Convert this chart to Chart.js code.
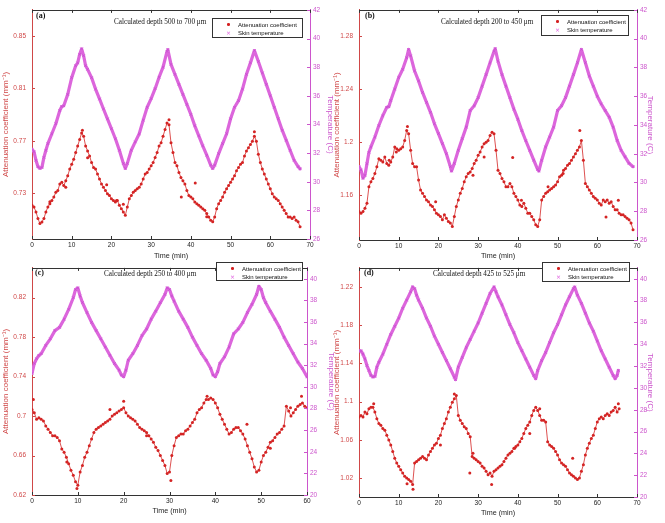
<!DOCTYPE html>
<html>
<head>
<meta charset="utf-8">
<script src="https://cdn.jsdelivr.net/npm/chart.js@4.4.1/dist/chart.umd.min.js"></script>
<style>
  html, body { margin: 0; padding: 0; background: #fff; }
  #wrap { position: relative; width: 665px; height: 523px; overflow: hidden; background: #fff; }
  canvas { position: absolute; }
  .lbl { position: absolute; font-family: 'Liberation Serif', 'Times New Roman', serif; color: #111; white-space: nowrap; line-height: 1; }
  .panel { font-weight: bold; font-size: 8px; }
  .depth { font-size: 7.2px; }
  .legend { position: absolute; border: 1px solid #333; background: #fff; box-sizing: border-box; }
  .legend .row { position: absolute; left: 0; font-family: 'Liberation Sans', Arial, sans-serif; font-size: 6px; color: #111; white-space: nowrap; line-height: 1; }
  .legend .dot { position: absolute; width: 2.6px; height: 2.6px; border-radius: 50%; background: #d42020; }
  .legend .cross { position: absolute; font-family: 'DejaVu Sans', sans-serif; font-size: 6px; color: #dd55dd; line-height: 1; }
</style>
</head>
<body>
<div id="wrap">
  <canvas id="cA"></canvas>
  <canvas id="cB"></canvas>
  <canvas id="cC"></canvas>
  <canvas id="cD"></canvas>
</div>
<script>
// ---------------- DATA ----------------
const sampleStep = 0.5; // minutes between attenuation samples

// Panel (a) - calculated depth 500 to 700 um
const attnA = [
 0.7207,0.7194,0.7157,0.7106,0.7068,0.708,0.7106,0.7157,0.7194,0.722,
 0.7244,0.727,0.7307,0.732,0.737,0.7383,0.7358,0.7395,0.7433,0.7484,
 0.7521,0.7559,0.761,0.766,0.771,0.776,0.7735,0.766,0.7622,0.7584,
 0.7534,0.7496,0.7484,0.7446,0.7408,0.737,0.7345,0.732,0.7295,0.7282,
 0.7257,0.7244,0.7232,0.7244,0.7207,0.7182,0.7157,0.7131,0.7194,0.7257,
 0.7282,0.7307,0.732,0.7333,0.7345,0.737,0.7408,0.7446,0.7458,0.7484,
 0.7509,0.7534,0.7572,0.761,0.766,0.7685,0.7735,0.7786,0.7836,0.7823,
 0.7685,0.761,0.7534,0.7509,0.7458,0.742,0.7395,0.737,0.732,0.7282,
 0.727,0.7257,0.7232,0.722,0.7207,0.7194,0.7182,0.7169,0.7144,0.7119,
 0.7094,0.7081,0.7119,0.7182,0.722,0.7244,0.727,0.7307,0.7333,0.7358,
 0.7383,0.7408,0.7433,0.7471,0.7496,0.7521,0.7534,0.7584,0.7622,0.7647,
 0.7672,0.7697,0.7735,0.7697,0.7597,0.7534,0.7484,0.7446,0.7408,0.737,
 0.7333,0.7295,0.727,0.7257,0.7244,0.722,0.7194,0.7169,0.7144,0.7119,
 0.7119,0.7106,0.7119,0.7094,0.7081,0.7043];
const extraTimeA = [18.8,41.1,8.5,37.6,23,56,12.7,34.5,14,44,21.3,4.5];
const extraAttnA = [0.7365,0.7378,0.7345,0.727,0.7215,0.777,0.778,0.786,0.757,0.712,0.7245,0.7235];
const tempTimeA = [0,0.5,1,1.5,2,2.5,3,3.5,4,5,6,7,7.5,8,9,10,11,11.5,12,12.5,13,13.5,14,15,16,17,18,19,20,21,22,23,23.5,24,25,26,27,28,29,30,31,32,33,34,34.2,35,36,37,38,39,40,41,42,43,44,45,45.5,46,47,48,49,50,51,52,53,54,55,56,57,58,59,60,61,62,63,64,65,66,67,67.5];
const tempA = [32.27,32.1,31.5,31.05,30.93,31.0,31.7,32.2,32.66,33.35,34.05,34.97,35.25,35.3,36.1,37.27,38.1,38.3,38.9,39.28,38.8,38.1,37.85,37.27,36.47,35.78,35.08,34.39,33.7,33.0,32.2,31.28,30.93,31.28,32.2,32.78,33.35,34.3,35.2,35.8,36.5,37.3,38.0,39.1,39.23,38.2,37.5,36.8,36.1,35.4,34.7,33.9,33.2,32.5,31.85,31.16,30.93,31.16,31.96,32.66,33.35,34.4,35.2,35.66,36.47,37.5,38.3,39.16,38.4,37.6,36.8,36.0,35.2,34.4,33.6,32.9,32.2,31.5,31.05,30.9];
const attnTicksA = [0.73,0.77,0.81,0.85];
const tempTicksA = [26,28,30,32,34,36,38,40,42];

// Panel (b) - calculated depth 200 to 450 um
const attnB = [
 1.1475,1.1463,1.1475,1.15,1.1538,1.1663,1.17,1.1725,1.1763,1.1813,
 1.1875,1.1863,1.185,1.1888,1.1838,1.1825,1.185,1.1888,1.1963,1.195,
 1.1938,1.195,1.1963,1.2013,1.2088,1.2063,1.1938,1.1838,1.1813,1.1813,
 1.1713,1.1638,1.1613,1.1588,1.1563,1.155,1.1525,1.1513,1.1488,1.1463,
 1.145,1.1438,1.1413,1.145,1.1425,1.14,1.1388,1.1363,1.1438,1.1513,
 1.1563,1.1613,1.165,1.17,1.1738,1.1763,1.1775,1.18,1.1838,1.1863,
 1.19,1.1925,1.1963,1.1988,1.2,1.2013,1.205,1.2075,1.2063,1.1938,
 1.1788,1.1763,1.1725,1.17,1.1663,1.1663,1.1688,1.1663,1.1613,1.1588,
 1.1563,1.1525,1.1513,1.1538,1.15,1.1463,1.1463,1.1438,1.1413,1.1375,
 1.1363,1.1413,1.1563,1.1588,1.1613,1.1625,1.1638,1.165,1.1663,1.1675,
 1.17,1.1738,1.175,1.1788,1.18,1.1825,1.1838,1.1863,1.1888,1.1913,
 1.1938,1.1963,1.2013,1.1863,1.1688,1.1663,1.1638,1.1613,1.1588,1.1575,
 1.1563,1.1538,1.1525,1.1563,1.155,1.1563,1.1538,1.155,1.1513,1.1488,
 1.1488,1.1463,1.145,1.145,1.1438,1.1425,1.1413,1.1388,1.1338];
const extraTimeB = [31.5,38.7,51.4,55.6,62.2,7.6,9.4,28.7,19.3,47.6,65.3,40.9,12.2];
const extraAttnB = [1.1888,1.1883,1.1763,1.2088,1.1433,1.1863,1.1925,1.175,1.155,1.1663,1.156,1.156,1.2118];
const tempTimeB = [0,0.5,1,1.5,2,2.5,3,4,5,6,7,7.5,8,9,10,11,12,12.5,13,14,15,16,17,18,19,20,21,22,23,23.3,24,25,26,27,28,29,30,31,32,33,34,34.3,35,36,37,38,39,40,41,42,43,44,45,45.3,46,47,48,49,50,51,52,53,54,55,56,57,58,59,60,61,62,63,64,65,66,67,68,69];
const tempB = [31.1,30.87,30.3,30.5,31.3,32.1,32.47,33.16,33.96,34.65,35.23,35.27,35.7,36.5,37.3,37.87,38.67,39.25,38.8,37.75,37.06,36.26,35.57,34.88,34.08,33.4,32.7,32.0,31.1,30.8,31.33,32.24,33.05,33.85,35.0,35.34,35.9,36.7,37.5,38.33,39.13,39.3,38.44,37.5,36.7,35.9,35.1,34.4,33.6,32.9,32.24,31.55,30.9,30.8,31.55,32.47,33.16,33.85,35.0,35.34,35.9,36.7,37.5,38.33,39.25,38.33,37.4,36.7,36.0,35.46,35.0,34.54,33.85,32.93,32.24,31.78,31.33,31.1];
const attnTicksB = [1.16,1.2,1.24,1.28];
const tempTicksB = [26,28,30,32,34,36,38,40,42];

// Panel (c) - calculated depth 250 to 400 um
const attnC = [
 0.7067,0.7033,0.6967,0.6983,0.6967,0.695,0.69,0.6867,0.6833,0.68,
 0.68,0.6783,0.675,0.6667,0.6633,0.6583,0.6517,0.645,0.64,0.6333,
 0.63,0.6433,0.65,0.6583,0.6633,0.67,0.6767,0.6833,0.6867,0.6883,
 0.69,0.6917,0.6933,0.695,0.6967,0.7,0.7017,0.7033,0.705,0.7067,
 0.7083,0.7033,0.7,0.6983,0.6967,0.695,0.6917,0.6883,0.6867,0.685,
 0.6833,0.68,0.6767,0.6733,0.6683,0.665,0.66,0.655,0.65,0.6417,
 0.6433,0.66,0.67,0.6783,0.68,0.6817,0.6817,0.685,0.6867,0.69,
 0.6933,0.6967,0.7033,0.7067,0.7083,0.7133,0.7167,0.7167,0.7183,0.7167,
 0.7133,0.7083,0.7017,0.6967,0.6917,0.6867,0.6817,0.6833,0.6867,0.6883,
 0.6883,0.685,0.6817,0.6767,0.67,0.6633,0.6567,0.6483,0.6433,0.645,
 0.6533,0.66,0.6633,0.6683,0.6733,0.675,0.6783,0.6817,0.6833,0.6867,
 0.69,0.71,0.705,0.7,0.7033,0.7067,0.71,0.7117,0.7133,0.71,
 0.7083];
const extraTimeC = [7.6,9.8,17,25,30.3,38.2,46.9,56.4,58.8,0.3,52,20];
const extraAttnC = [0.6533,0.6267,0.7067,0.68,0.6347,0.72,0.6917,0.7083,0.72,0.7167,0.6673,0.715];
const tempTimeC = [0,0.5,1,1.5,2,3,4,5,6,7,8,9,9.5,10,10.5,11,12,13,14,15,16,17,18,19,19.5,20,20.5,21,22,23,24,25,26,27,28,29,29.5,30,30.5,31,32,33,34,35,36,37,38,39,39.5,40,40.5,41,42,43,44,45,46,47,48,49,49.5,50,50.5,51,52,53,54,55,56,57,58,59,60];
const tempC = [31.25,32.16,32.6,32.9,33.07,33.83,34.44,35.2,35.5,36.26,37.17,38.24,39.0,39.15,38.4,37.8,36.87,35.96,35.2,34.44,33.68,32.92,32.16,31.55,31.1,30.94,31.55,32.46,33.07,33.83,34.74,35.35,36.26,37.0,37.78,38.54,39.15,39.0,38.4,37.93,37.0,36.26,35.5,34.6,33.83,33.07,32.46,31.7,31.1,30.94,31.4,32.16,32.77,33.68,34.9,35.35,35.96,36.87,37.63,38.54,39.3,39.0,38.24,37.78,37.0,36.26,35.5,34.6,33.83,33.07,32.3,31.7,30.94];
const attnTicksC = [0.62,0.66,0.7,0.74,0.78,0.82];
const tempTicksC = [20,22,24,26,28,30,32,34,36,38,40];

// Panel (d) - calculated depth 425 to 525 um
const attnD = [
 1.0838,1.0855,1.0838,1.089,1.0873,1.0924,1.0941,1.0941,1.089,1.0821,
 1.0769,1.0752,1.0717,1.07,1.0648,1.0597,1.0545,1.0476,1.0407,1.0355,
 1.0321,1.0286,1.0252,1.0217,1.02,1.0183,1.0166,1.0131,1.0355,1.0372,
 1.039,1.0407,1.0424,1.0407,1.039,1.0441,1.0476,1.051,1.0545,1.0562,
 1.0614,1.0648,1.0717,1.0769,1.0821,1.089,1.0941,1.0993,1.1028,1.1062,
 1.0855,1.0803,1.0769,1.0735,1.0717,1.0666,1.0631,1.0424,1.0407,1.039,
 1.0372,1.0355,1.0321,1.0303,1.0269,1.0234,1.0252,1.0217,1.0269,1.0286,
 1.0303,1.0321,1.0338,1.0372,1.0407,1.0441,1.0459,1.0476,1.051,1.0528,
 1.0545,1.0579,1.0614,1.0666,1.0717,1.0752,1.0786,1.0855,1.0907,1.0941,
 1.0907,1.0855,1.0803,1.0803,1.0786,1.058,1.0545,1.0528,1.051,1.0476,
 1.0441,1.039,1.0355,1.0338,1.0321,1.0286,1.0252,1.0234,1.0217,1.02,
 1.0183,1.02,1.0269,1.0338,1.0441,1.051,1.0562,1.0614,1.0648,1.0717,
 1.0786,1.0821,1.0838,1.0821,1.0855,1.0873,1.0855,1.089,1.0907,1.0941,
 1.089,1.0924];
const extraTimeD = [13.6,12.1,27.9,28.7,33.4,53.8,45.5,39.2,65.3,3.7,24,20.5,43];
const extraAttnD = [1.008,1.0138,1.0252,1.0459,1.0131,1.0407,1.0924,1.051,1.0976,1.0976,1.1079,1.0545,1.0665];
const tempTimeD = [0,0.5,1,1.5,2,2.5,3,3.5,4,4.5,5,6,7,8,9,10,11,12,13,13.5,14,14.5,15,16,17,18,19,20,21,22,23,24,24.3,25,26,27,28,29,30,31,32,33,34,34.5,35,36,37,38,39,40,41,42,43,44,44.5,45,46,47,48,49,50,51,52,53,54,54.3,55,56,57,58,59,60,61,62,63,64,64.5,65,65.3];
const tempD = [33.4,33.4,33.1,32.65,32.05,31.6,31.15,31.0,31.06,31.9,32.35,33.1,34.0,34.9,35.65,36.4,37.3,38.05,38.8,39.25,39.1,38.5,38.05,37.3,36.4,35.65,34.75,34.0,33.25,32.5,31.75,31.0,30.76,31.9,32.8,33.7,34.45,35.2,35.95,36.85,37.75,38.65,39.25,38.8,38.35,37.6,36.7,35.8,35.05,34.15,33.4,32.65,31.9,31.15,30.85,31.6,32.5,33.25,34.15,35.05,35.8,36.7,37.6,38.35,39.1,39.25,38.5,37.75,36.85,35.95,35.2,34.3,33.4,32.65,31.9,31.15,30.85,31.15,31.6];
const attnTicksD = [1.02,1.06,1.1,1.14,1.18,1.22];
const tempTicksD = [20,22,24,26,28,30,32,34,36,38,40];

const panelLabels = ['(a)','(b)','(c)','(d)'];
const depthLabels = ['Calculated depth 500 to 700 \u03bcm','Calculated depth 200 to 450 \u03bcm','Calculated depth 250 to 400 \u03bcm','Calculated depth 425 to 525 \u03bcm'];
const seriesNames = ['Attenuation coefficient','Skin temperature'];

// ---------------- STYLE / LAYOUT ----------------
const RED = '#d42424';
const RED_AX = '#d04848';
const MAG = '#dc66dc';
const MAG_AX = '#cc55cc';
const SANS = "'Liberation Sans', Arial, sans-serif";

const panels = [
  { cid:'cA', attn:attnA, exT:extraTimeA, exV:extraAttnA, tT:tempTimeA, tV:tempA, ticks:attnTicksA, ticks2:tempTicksA,
    box:{left:0, top:0, w:335, h:260}, area:{left:32, right:310, top:8, bottom:239},
    xMax:70, yMin:0.695, yMax:0.87, y2Min:26, y2Max:42,
    label:{x:36, y:12}, depth:{x:114, y:19}, legend:{x:212, y:18, w:91, h:20} },
  { cid:'cB', attn:attnB, exT:extraTimeB, exV:extraAttnB, tT:tempTimeB, tV:tempB, ticks:attnTicksB, ticks2:tempTicksB,
    box:{left:331, top:0, w:324, h:260}, area:{left:359, right:637, top:8, bottom:240},
    xMax:70, yMin:1.126, yMax:1.30, y2Min:26, y2Max:42,
    label:{x:365, y:12}, depth:{x:441, y:19}, legend:{x:541, y:15, w:88, h:21} },
  { cid:'cC', attn:attnC, exT:extraTimeC, exV:extraAttnC, tT:tempTimeC, tV:tempC, ticks:attnTicksC, ticks2:tempTicksC,
    box:{left:0, top:258, w:336, h:257}, area:{left:32, right:307, top:264, bottom:495},
    xMax:60, yMin:0.62, yMax:0.85, y2Min:20, y2Max:41,
    label:{x:35, y:269}, depth:{x:104, y:271}, legend:{x:216, y:262, w:87, h:19} },
  { cid:'cD', attn:attnD, exT:extraTimeD, exV:extraAttnD, tT:tempTimeD, tV:tempD, ticks:attnTicksD, ticks2:tempTicksD,
    box:{left:331, top:258, w:324, h:259}, area:{left:359, right:637, top:264, bottom:497},
    xMax:70, yMin:1.00, yMax:1.24, y2Min:20, y2Max:41,
    label:{x:364, y:269}, depth:{x:433, y:271}, legend:{x:542, y:262, w:88, h:20} }
];

const framePlugin = {
  id: 'frame',
  afterDraw(chart) {
    const { ctx, chartArea: a, scales } = chart;
    ctx.save();
    ctx.lineWidth = 1;
    ctx.strokeStyle = '#333';
    ctx.beginPath();
    ctx.moveTo(a.left, Math.round(a.top) + 0.5);
    ctx.lineTo(a.right, Math.round(a.top) + 0.5);
    scales.x.ticks.forEach(t => {
      const px = Math.round(scales.x.getPixelForValue(t.value)) + 0.5;
      ctx.moveTo(px, a.bottom); ctx.lineTo(px, a.bottom - 3);
      ctx.moveTo(px, a.top); ctx.lineTo(px, a.top + 3);
    });
    ctx.stroke();
    ctx.strokeStyle = RED_AX;
    ctx.beginPath();
    scales.y.ticks.forEach(t => {
      const py = Math.round(scales.y.getPixelForValue(t.value)) + 0.5;
      ctx.moveTo(a.left, py); ctx.lineTo(a.left + 3, py);
    });
    ctx.stroke();
    ctx.strokeStyle = MAG_AX;
    ctx.beginPath();
    scales.y2.ticks.forEach(t => {
      const py = Math.round(scales.y2.getPixelForValue(t.value)) + 0.5;
      ctx.moveTo(a.right, py); ctx.lineTo(a.right - 3, py);
    });
    ctx.stroke();
    ctx.restore();
  }
};

function fmt(v) { return String(Number(v.toFixed(3))); }

panels.forEach((p, idx) => {
  const cv = document.getElementById(p.cid);
  cv.width = p.box.w; cv.height = p.box.h;
  cv.style.left = p.box.left + 'px'; cv.style.top = p.box.top + 'px';
  cv.style.width = p.box.w + 'px'; cv.style.height = p.box.h + 'px';

  const leftW = p.area.left - p.box.left;
  const rightW = p.box.left + p.box.w - p.area.right;
  const bottomH = p.box.top + p.box.h - p.area.bottom;
  const topPad = p.area.top - p.box.top;

  const attnPts = p.attn.map((v, i) => ({ x: i * sampleStep, y: v }));
  const extraPts = p.exT.map((t, i) => ({ x: t, y: p.exV[i] }));
  const tempPts = p.tT.map((t, i) => ({ x: t, y: p.tV[i] }));

  new Chart(cv, {
    type: 'line',
    data: {
      datasets: [
        { label: seriesNames[1], data: tempPts, yAxisID: 'y2', borderColor: MAG, borderWidth: 3.2,
          borderJoinStyle: 'round', borderCapStyle: 'round',
          pointStyle: 'crossRot', pointRadius: 1.8, pointBorderColor: '#c94fd0', pointBorderWidth: 0.8,
          tension: 0, order: 2 },
        { label: seriesNames[0], data: attnPts, yAxisID: 'y', borderColor: RED, borderWidth: 0.8,
          pointRadius: 1.5, pointBackgroundColor: RED, pointBorderColor: RED, pointBorderWidth: 0,
          tension: 0, order: 1 },
        { label: seriesNames[0] + ' ', data: extraPts, yAxisID: 'y', showLine: false,
          pointRadius: 1.5, pointBackgroundColor: RED, pointBorderColor: RED, pointBorderWidth: 0, order: 0 }
      ]
    },
    options: {
      responsive: false,
      animation: false,
      devicePixelRatio: 1,
      layout: { padding: { top: topPad, left: 0, right: 0, bottom: 0 } },
      plugins: { legend: { display: false }, tooltip: { enabled: false } },
      scales: {
        x: {
          type: 'linear', min: 0, max: p.xMax,
          ticks: { stepSize: 10, color: '#222', font: { family: SANS, size: 6.5 }, padding: 2, maxRotation: 0 },
          grid: { display: true, drawOnChartArea: false, drawTicks: false, color: '#333' },
          border: { color: '#333', width: 1 },
          title: { display: true, text: 'Time (min)', color: '#222', font: { family: SANS, size: 7.2 }, padding: { top: 0, bottom: 0 } },
          afterFit(s) { s.height = bottomH; }
        },
        y: {
          position: 'left', min: p.yMin, max: p.yMax,
          afterBuildTicks(s) { s.ticks = p.ticks.map(v => ({ value: v })); },
          ticks: { color: RED_AX, font: { family: SANS, size: 6.5 }, padding: 6, callback: v => fmt(v) },
          grid: { display: true, drawOnChartArea: false, drawTicks: false, color: RED_AX },
          border: { color: RED_AX, width: 1 },
          title: { display: true, text: 'Attenuation coefficient (mm\u207b\u00b9)', color: RED_AX, font: { family: SANS, size: 8 }, padding: { top: 1, bottom: 0 } },
          afterFit(s) { s.width = leftW; }
        },
        y2: {
          position: 'right', min: p.y2Min, max: p.y2Max,
          afterBuildTicks(s) { s.ticks = p.ticks2.map(v => ({ value: v })); },
          ticks: { color: MAG_AX, font: { family: SANS, size: 6.5 }, padding: 3 },
          grid: { display: true, drawOnChartArea: false, drawTicks: false, color: MAG_AX },
          border: { color: MAG_AX, width: 1 },
          title: { display: true, text: 'Temperature (C)', color: MAG_AX, font: { family: SANS, size: 8 }, padding: { top: 0, bottom: 0 } },
          afterFit(s) { s.width = rightW; }
        }
      }
    },
    plugins: [framePlugin]
  });

  // annotations (real text)
  const wrap = document.getElementById('wrap');
  const pl = document.createElement('div');
  pl.className = 'lbl panel'; pl.textContent = panelLabels[idx];
  pl.style.left = p.label.x + 'px'; pl.style.top = p.label.y + 'px';
  wrap.appendChild(pl);
  const dp = document.createElement('div');
  dp.className = 'lbl depth'; dp.textContent = depthLabels[idx];
  dp.style.left = p.depth.x + 'px'; dp.style.top = p.depth.y + 'px';
  wrap.appendChild(dp);

  const lg = document.createElement('div');
  lg.className = 'legend';
  lg.style.left = p.legend.x + 'px'; lg.style.top = p.legend.y + 'px';
  lg.style.width = p.legend.w + 'px'; lg.style.height = p.legend.h + 'px';
  const d = document.createElement('div'); d.className = 'dot'; d.style.left = '14px'; d.style.top = '4px'; lg.appendChild(d);
  const c = document.createElement('div'); c.className = 'cross'; c.textContent = '\u00d7'; c.style.left = '13px'; c.style.top = '10.5px'; lg.appendChild(c);
  const r1 = document.createElement('div'); r1.className = 'row'; r1.textContent = seriesNames[0]; r1.style.left = '25px'; r1.style.top = '2.5px'; lg.appendChild(r1);
  const r2 = document.createElement('div'); r2.className = 'row'; r2.textContent = seriesNames[1]; r2.style.left = '25px'; r2.style.top = '11px'; lg.appendChild(r2);
  wrap.appendChild(lg);
});
</script>
</body>
</html>
